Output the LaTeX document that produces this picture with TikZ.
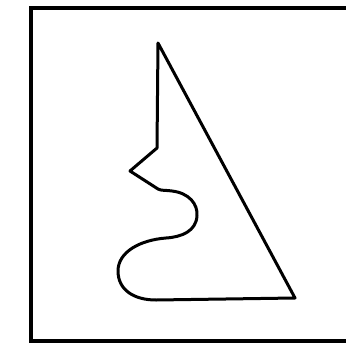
\documentclass[tikz,border=0pt]{standalone}
\begin{document}
\begin{tikzpicture}[x=1pt,y=-1pt,
  frameline/.style={line width=3.3pt,line join=miter},
  shapeline/.style={line width=3pt,line join=round,line cap=round}]
\useasboundingbox (0,0) rectangle (346,346);
\draw[frameline] (348,8) -- (31,8) -- (31,341) -- (348,341);
\draw[shapeline] (158,43) -- (157,148) -- (130,171) -- (158,189)
  .. controls (162,191) and (166,190) .. (172,191)
  .. controls (189,193) and (198,204) .. (197,216)
  .. controls (196,231) and (182,237) .. (166,238)
  .. controls (140,240) and (118,252) .. (118,271)
  .. controls (118,290) and (134,300) .. (156,300)
  -- (295,298) -- cycle;
\end{tikzpicture}
\end{document}
